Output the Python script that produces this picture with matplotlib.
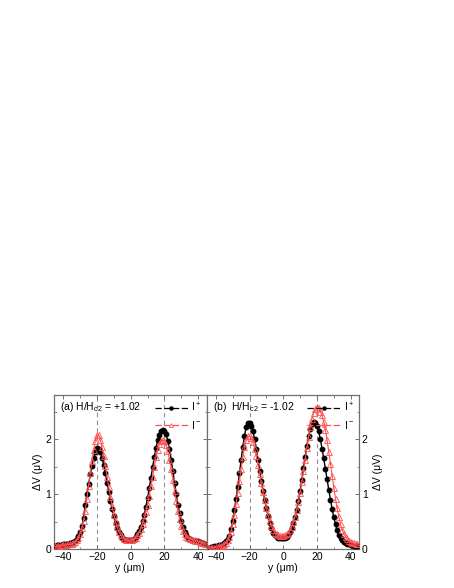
import numpy as np
import matplotlib
matplotlib.use('Agg')
import matplotlib.pyplot as plt

plt.rcParams['font.family'] = ['Liberation Sans', 'DejaVu Sans']
plt.rcParams['mathtext.fontset'] = 'custom'
plt.rcParams['mathtext.rm'] = 'Liberation Sans'
plt.rcParams['mathtext.it'] = 'Liberation Sans:italic'

# position across the strip (um), one point per micron
y_um = np.arange(-45, 45, 1)

# (a) H/Hc2 = +1.02
a_plus = [0.06, 0.07, 0.07, 0.08, 0.08, 0.09, 0.09, 0.10, 0.10, 0.11,
          0.12, 0.13, 0.15, 0.19, 0.24, 0.32, 0.42, 0.56, 0.80, 1.00,
          1.18, 1.36, 1.52, 1.66, 1.77, 1.84, 1.83, 1.76, 1.66, 1.53,
          1.38, 1.21, 1.04, 0.88, 0.73, 0.60, 0.48, 0.39, 0.31, 0.25,
          0.21, 0.18, 0.17, 0.16, 0.16, 0.16, 0.17, 0.19, 0.22, 0.27,
          0.33, 0.41, 0.51, 0.63, 0.77, 0.93, 1.11, 1.30, 1.49, 1.67,
          1.84, 1.98, 2.08, 2.14, 2.17, 2.15, 2.09, 1.97, 1.82, 1.63,
          1.42, 1.21, 1.00, 0.81, 0.66, 0.52, 0.40, 0.31, 0.25, 0.21,
          0.18, 0.16, 0.15, 0.15, 0.14, 0.14, 0.13, 0.12, 0.11, 0.10]
a_minus = [0.05, 0.05, 0.06, 0.06, 0.07, 0.07, 0.08, 0.08, 0.09, 0.09,
           0.10, 0.11, 0.13, 0.16, 0.21, 0.28, 0.38, 0.52, 0.70, 0.92,
           1.15, 1.38, 1.60, 1.80, 1.97, 2.08, 2.07, 1.98, 1.85, 1.69,
           1.51, 1.32, 1.13, 0.95, 0.78, 0.63, 0.50, 0.40, 0.32, 0.26,
           0.22, 0.19, 0.17, 0.16, 0.16, 0.16, 0.17, 0.18, 0.21, 0.25,
           0.30, 0.37, 0.45, 0.55, 0.67, 0.81, 0.97, 1.14, 1.32, 1.50,
           1.67, 1.81, 1.91, 1.97, 1.98, 1.96, 1.89, 1.78, 1.63, 1.45,
           1.26, 1.06, 0.87, 0.69, 0.54, 0.42, 0.33, 0.27, 0.23, 0.20,
           0.19, 0.18, 0.17, 0.16, 0.15, 0.14, 0.13, 0.12, 0.11, 0.10]

# (b) H/Hc2 = -1.02
b_plus = [0.03, 0.03, 0.04, 0.04, 0.05, 0.05, 0.06, 0.07, 0.08, 0.10,
          0.12, 0.15, 0.19, 0.24, 0.36, 0.52, 0.71, 0.92, 1.13, 1.38,
          1.62, 1.86, 2.06, 2.22, 2.30, 2.30, 2.24, 2.14, 2.00, 1.82,
          1.62, 1.43, 1.24, 1.06, 0.89, 0.74, 0.60, 0.48, 0.38, 0.30,
          0.25, 0.22, 0.21, 0.20, 0.20, 0.20, 0.21, 0.23, 0.26, 0.31,
          0.38, 0.47, 0.58, 0.72, 0.88, 1.06, 1.26, 1.47, 1.68, 1.88,
          2.05, 2.18, 2.27, 2.31, 2.29, 2.24, 2.14, 2.00, 1.83, 1.65,
          1.46, 1.27, 1.08, 0.90, 0.73, 0.58, 0.45, 0.34, 0.26, 0.20,
          0.16, 0.13, 0.11, 0.10, 0.09, 0.08, 0.07, 0.06, 0.05, 0.05]
b_minus = [0.02, 0.02, 0.03, 0.03, 0.03, 0.04, 0.04, 0.05, 0.06, 0.07,
           0.09, 0.12, 0.16, 0.22, 0.32, 0.46, 0.63, 0.82, 1.02, 1.24,
           1.46, 1.67, 1.85, 1.98, 2.05, 2.06, 2.02, 1.94, 1.83, 1.69,
           1.53, 1.37, 1.20, 1.04, 0.89, 0.75, 0.62, 0.51, 0.42, 0.35,
           0.30, 0.27, 0.25, 0.24, 0.24, 0.24, 0.25, 0.27, 0.30, 0.35,
           0.41, 0.49, 0.59, 0.71, 0.86, 1.03, 1.22, 1.42, 1.63, 1.84,
           2.04, 2.22, 2.37, 2.48, 2.55, 2.58, 2.57, 2.50, 2.43, 2.32,
           2.17, 1.98, 1.77, 1.55, 1.33, 1.12, 0.92, 0.74, 0.58, 0.45,
           0.35, 0.27, 0.22, 0.18, 0.15, 0.13, 0.12, 0.11, 0.10, 0.09]

panels = [
    (a_plus, a_minus, '(a) H/H$_{\\mathregular{c2}}$ = +1.02'),
    (b_plus, b_minus, '(b)  H/H$_{\\mathregular{c2}}$ = -1.02'),
]

fig = plt.figure(figsize=(4.54, 5.88), dpi=100)
ax1 = fig.add_axes([0.119, 0.066, 0.336, 0.262])
ax2 = fig.add_axes([0.455, 0.066, 0.336, 0.262])
spine_col = '#707070'
red = '#ff5050'

for ax, (vp, vm, title) in zip([ax1, ax2], panels):
    for xv in [-20, 20]:
        ax.axvline(xv, color='#909090', ls=(0, (4, 3)), lw=0.8, zorder=1)
    ax.plot(y_um, vp, '-', color='black', marker='o', ms=3.2, lw=1.0,
            label='$\\mathregular{I^+}$', zorder=3)
    ax.plot(y_um, vm, '-', color=red, marker='^', ms=4.0, mfc='none',
            mec=red, mew=0.6, lw=0.8, label='$\\mathregular{I^-}$', zorder=4)
    ax.set_xlim(-45.5, 45)
    ax.set_ylim(0, 2.8)
    ax.set_xticks([-40, -20, 0, 20, 40])
    ax.set_xticks([-30, -10, 10, 30], minor=True)
    ax.set_yticks([0, 1, 2])
    ax.set_yticks([0.5, 1.5, 2.5], minor=True)
    ax.tick_params(which='both', direction='in', top=True, right=True,
                   labelsize=7.5, color=spine_col, pad=2)
    ax.tick_params(which='major', length=3, width=0.7)
    ax.tick_params(which='minor', length=1.8, width=0.6)
    for s in ax.spines.values():
        s.set_color(spine_col)
        s.set_linewidth(0.9)
    ax.set_xlabel('y (\u03bcm)', fontsize=7.5, labelpad=1)
    ax.text(0.04, 0.97, title, transform=ax.transAxes, fontsize=7.5,
            va='top', ha='left')
    leg = ax.legend(loc='upper right', frameon=False, fontsize=7.5,
                    handlelength=3.2, handletextpad=0.3, labelspacing=0.5,
                    borderaxespad=0.2, borderpad=0.3, markerscale=0.7)
    for h in leg.get_lines():
        h.set_linestyle((0, (5, 2)))
        h.set_linewidth(0.9)

ax1.set_ylabel('\u0394V (\u03bcV)', fontsize=7.5, labelpad=2)
ax2.tick_params(labelleft=False, labelright=True)
ax2.yaxis.set_label_position('right')
ax2.set_ylabel('\u0394V (\u03bcV)', fontsize=7.5, labelpad=4, rotation=90)

fig.savefig('out.png', dpi=100)
